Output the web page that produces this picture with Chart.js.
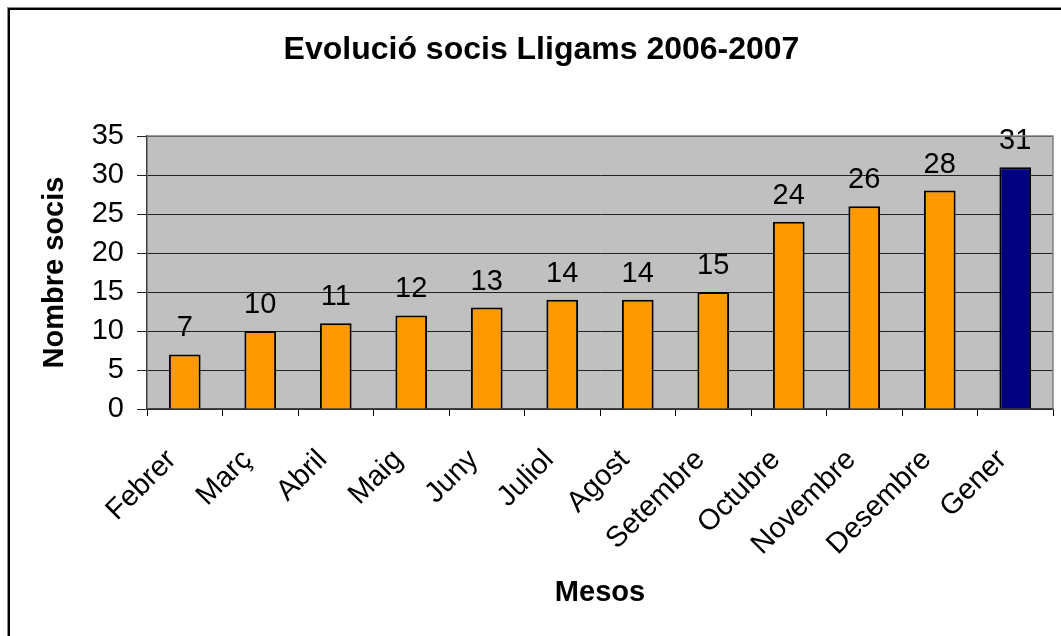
<!DOCTYPE html>
<html>
<head>
<meta charset="utf-8">
<script src="https://cdn.jsdelivr.net/npm/chart.js@4"></script>
<style>
    html, body { margin: 0; padding: 0; background: #fff; overflow: hidden; }
    #wrap { position: relative; width: 1061px; height: 636px; }
    #frame {
        position: absolute; left: 8px; top: 8px; width: 1100px; height: 700px;
        border-left: 2px solid #000; border-top: 2px solid #000;
        box-shadow: -1px -1px 0 #888;
    }
    canvas { position: absolute; left: 0; top: 0; }
</style>
</head>
<body>
<div id="wrap">
    <div id="frame"></div>
    <canvas id="sociChart" width="1061" height="636"></canvas>
</div>
<script>
// ================================
// Data
// ================================
const months = ["Febrer", "Març", "Abril", "Maig", "Juny", "Juliol", "Agost", "Setembre", "Octubre", "Novembre", "Desembre", "Gener"];
const socis = [7, 10, 11, 12, 13, 14, 14, 15, 24, 26, 28, 31];
const barColors = ["#FF9900", "#FF9900", "#FF9900", "#FF9900", "#FF9900", "#FF9900", "#FF9900", "#FF9900", "#FF9900", "#FF9900", "#FF9900", "#000080"];

const FONT = "'Liberation Sans', Arial, sans-serif";

// gray plot background + border
const plotArea = {
    id: "plotArea",
    beforeDraw(chart) {
        const { ctx, chartArea: a } = chart;
        ctx.save();
        ctx.fillStyle = "#C0C0C0";
        ctx.fillRect(a.left, a.top, a.right - a.left, a.bottom - a.top);
        ctx.restore();
    },
    afterDraw(chart) {
        const { ctx, chartArea: a } = chart;
        ctx.save();
        ctx.strokeStyle = "#808080";
        ctx.lineWidth = 1.5;
        ctx.beginPath();
        ctx.moveTo(a.left, a.top);
        ctx.lineTo(a.right, a.top);
        ctx.lineTo(a.right, a.bottom);
        ctx.stroke();
        ctx.restore();
    }
};

// value labels above bars
const valueLabels = {
    id: "valueLabels",
    afterDatasetsDraw(chart) {
        const { ctx } = chart;
        const meta = chart.getDatasetMeta(0);
        ctx.save();
        ctx.font = "29px " + FONT;
        ctx.fillStyle = "#000";
        ctx.textAlign = "center";
        ctx.textBaseline = "alphabetic";
        meta.data.forEach((bar, i) => {
            ctx.fillText(String(socis[i]), bar.x, bar.y - 18);
        });
        ctx.restore();
    }
};

new Chart(document.getElementById("sociChart"), {
    type: "bar",
    data: {
        labels: months,
        datasets: [{
            data: socis,
            backgroundColor: barColors,
            borderColor: "#000",
            borderWidth: 2,
            barPercentage: 0.42,
            categoryPercentage: 1.0
        }]
    },
    options: {
        responsive: false,
        animation: false,
        layout: { padding: { left: 30, right: 8, top: 0, bottom: 26 } },
        plugins: {
            legend: { display: false },
            tooltip: { enabled: false },
            title: {
                display: true,
                text: "Evolució socis Lligams 2006-2007",
                color: "#000",
                font: { family: FONT, size: 32, weight: "bold" },
                padding: { top: 31, bottom: 66.6 }
            }
        },
        scales: {
            x: {
                grid: { offset: true, drawOnChartArea: false, color: "#000", tickLength: 7 },
                border: { color: "#404040", width: 1.5 },
                ticks: {
                    color: "#000",
                    font: { family: FONT, size: 29 },
                    maxRotation: 45,
                    minRotation: 45,
                    autoSkip: false,
                    padding: 27,
                    labelOffset: -13
                },
                title: {
                    display: true,
                    text: "Mesos",
                    color: "#000",
                    font: { family: FONT, size: 29, weight: "bold" },
                    padding: 0
                },
                afterFit(scale) {
                    scale.height = 201;
                    scale.paddingLeft = 0;
                    scale.paddingRight = 0;
                }
            },
            y: {
                min: 0,
                max: 35,
                ticks: {
                    stepSize: 5,
                    color: "#000",
                    font: { family: FONT, size: 29 },
                    padding: 13
                },
                grid: { color: "#222", tickLength: 10, lineWidth: 1 },
                border: { color: "#404040", width: 1.5 },
                title: {
                    display: true,
                    text: "Nombre socis",
                    color: "#000",
                    font: { family: FONT, size: 29, weight: "bold" },
                    padding: { top: 8, bottom: 0 }
                },
                afterFit(scale) { scale.width = 117; }
            }
        }
    },
    plugins: [plotArea, valueLabels]
});
</script>
</body>
</html>
